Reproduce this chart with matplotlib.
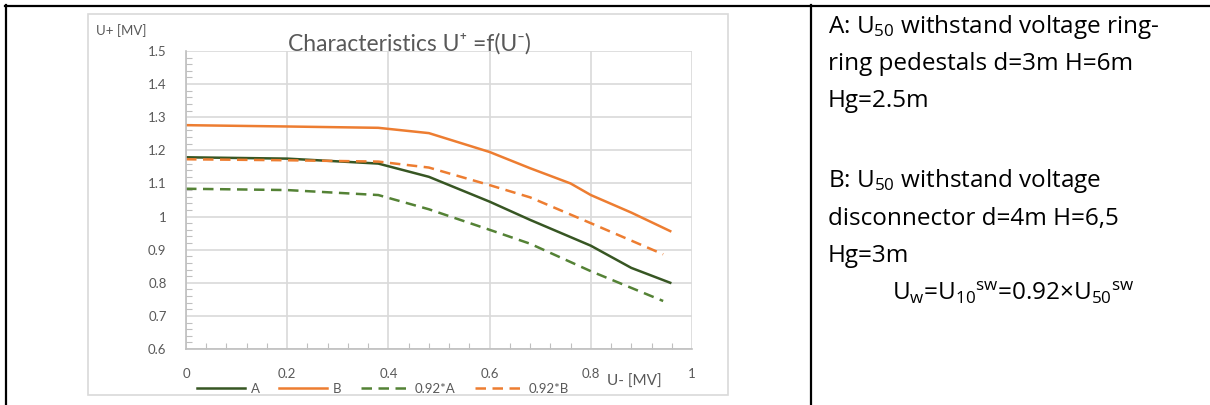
import matplotlib
matplotlib.use("Agg")
import matplotlib.pyplot as plt
from matplotlib.lines import Line2D
from matplotlib.patches import Rectangle
from matplotlib.ticker import MultipleLocator

plt.rcParams['font.family'] = ['Lato', 'DejaVu Sans']
plt.rcParams['mathtext.fontset'] = 'custom'
plt.rcParams['mathtext.rm'] = 'Open Sans'
plt.rcParams['mathtext.it'] = 'Open Sans:italic'
plt.rcParams['mathtext.bf'] = 'Open Sans:bold'

# dane (U- [MV] -> U+ [MV])
x_a = [0, 0.2, 0.38, 0.48, 0.6, 0.68, 0.8, 0.88, 0.957]
y_a = [1.179, 1.175, 1.160, 1.120, 1.045, 0.990, 0.912, 0.845, 0.800]

x_b = [0, 0.2, 0.38, 0.48, 0.6, 0.68, 0.76, 0.8, 0.88, 0.957]
y_b = [1.276, 1.272, 1.268, 1.252, 1.195, 1.146, 1.100, 1.065, 1.012, 0.956]

x_a92 = [0, 0.2, 0.38, 0.48, 0.6, 0.68, 0.8, 0.943]
y_a92 = [1.084, 1.080, 1.065, 1.022, 0.960, 0.918, 0.835, 0.745]

x_b92 = [0, 0.2, 0.38, 0.48, 0.6, 0.68, 0.8, 0.943]
y_b92 = [1.173, 1.170, 1.166, 1.148, 1.095, 1.058, 0.980, 0.886]

series_labels = ["A", "B", "0.92*A", "0.92*B"]
x_ticks = [0, 0.2, 0.4, 0.6, 0.8, 1]
y_ticks = [0.6, 0.7, 0.8, 0.9, 1.0, 1.1, 1.2, 1.3, 1.4, 1.5]
y_ticklabels = ["0.6", "0.7", "0.8", "0.9", "1", "1.1", "1.2", "1.3", "1.4", "1.5"]
x_ticklabels = ["0", "0.2", "0.4", "0.6", "0.8", "1"]

W, H = 1210, 405
fig = plt.figure(figsize=(W / 100, H / 100), dpi=100)


def fx(px):
    return px / W


def fy(py):
    return 1 - py / H


txt_gray = "#595959"
grid_col = "#D9D9D9"

# ramka obszaru wykresu
fig.add_artist(Rectangle((fx(88), fy(395)), fx(728) - fx(88), fy(14) - fy(395),
                         transform=fig.transFigure, fill=False, ec=grid_col, lw=1.2))

ax = fig.add_axes([fx(186), fy(349), fx(692) - fx(186), fy(51) - fy(349)])
dash = (0, (4.2, 2.6))
ax.plot(x_a, y_a, color="#375623", lw=1.8, label=series_labels[0])
ax.plot(x_b, y_b, color="#ED7D31", lw=1.8, label=series_labels[1])
ax.plot(x_a92, y_a92, color="#548235", lw=1.8, ls=dash, label=series_labels[2])
ax.plot(x_b92, y_b92, color="#ED7D31", lw=1.8, ls=dash, label=series_labels[3])

ax.set_xlim(0, 1)
ax.set_ylim(0.6, 1.5)
ax.set_xticks(x_ticks)
ax.set_xticklabels(x_ticklabels)
ax.set_yticks(y_ticks)
ax.set_yticklabels(y_ticklabels)
ax.xaxis.set_minor_locator(MultipleLocator(0.04))
ax.yaxis.set_minor_locator(MultipleLocator(0.02))
ax.grid(True, which="major", color=grid_col, lw=1.2)
ax.set_axisbelow(True)
for s in ["top", "right"]:
    ax.spines[s].set_visible(False)
for s in ["left", "bottom"]:
    ax.spines[s].set_color("#BFBFBF")
    ax.spines[s].set_linewidth(1.2)
ax.tick_params(which="both", direction="in", color="#BFBFBF", labelcolor=txt_gray, labelsize=9.5)
ax.tick_params(which="major", length=0)
ax.tick_params(which="minor", length=4, width=0.8)
ax.tick_params(axis="y", which="major", pad=14)
ax.tick_params(axis="x", which="major", pad=14)

fig.text(fx(409), fy(44), "Characteristics U\u207a =f(U\u207b)", ha="center", va="center",
         fontsize=16.5, color=txt_gray)
fig.text(fx(96), fy(31), "U+ [MV]", ha="left", va="center", fontsize=9.5, color=txt_gray)
fig.text(fx(607), fy(382), "U- [MV]", ha="left", va="center", fontsize=11, color=txt_gray)

fig.legend(loc="center", bbox_to_anchor=(fx(383), fy(389)), ncol=4, frameon=False,
           fontsize=9.5, handlelength=3.6, handletextpad=0.45, columnspacing=1.5,
           labelcolor=txt_gray)

# linie tabeli
fig.add_artist(Line2D([fx(5), 1], [fy(6), fy(6)], color="black", lw=1.6, transform=fig.transFigure))
fig.add_artist(Line2D([fx(6), fx(6)], [fy(5), 0], color="black", lw=1.6, transform=fig.transFigure))
fig.add_artist(Line2D([fx(811), fx(811)], [fy(5), 0], color="black", lw=1.6, transform=fig.transFigure))

# opis po prawej stronie
times = "\u00d7"
lines = [
    (828, 33, r"A: U$_{50}$ withstand voltage ring-"),
    (828, 70, "ring pedestals d=3m H=6m"),
    (828, 107, "Hg=2.5m"),
    (828, 187, r"B: U$_{50}$ withstand voltage"),
    (828, 225, "disconnector d=4m H=6,5"),
    (828, 262, "Hg=3m"),
    (892, 300, r"U$_{\mathrm{w}}$=U$_{10}$$^{\mathrm{sw}}$=0.92" + times + r"U$_{50}$$^{\mathrm{sw}}$"),
]
for px, py, t in lines:
    fig.text(fx(px), fy(py), t, ha="left", va="baseline",
             fontsize=17.5, color="black", family=["Open Sans", "DejaVu Sans"])

fig.savefig("out.png", dpi=100)
